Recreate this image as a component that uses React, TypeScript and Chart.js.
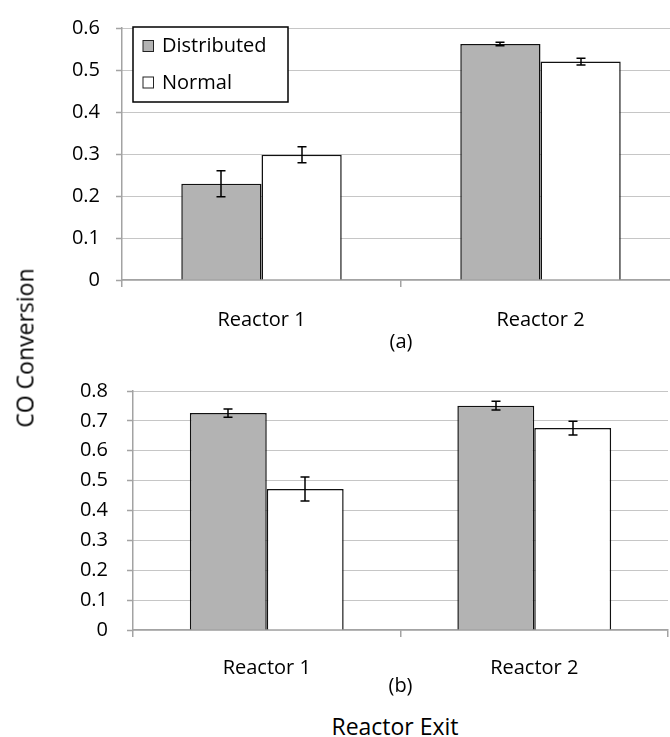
import React, { useEffect, useRef } from 'react';
import { Chart, registerables } from 'chart.js';

Chart.register(...registerables);

// Categories and series
const reactors = ['Reactor 1', 'Reactor 2'];
const seriesNames = ['Distributed', 'Normal'];
const seriesFill = ['#b3b3b3', '#ffffff'];

// Panel (a): CO conversion at each reactor exit, with error half-widths
const distributedA = [0.229, 0.562];
const distributedErrA = [0.031, 0.004];
const normalA = [0.298, 0.52];
const normalErrA = [0.019, 0.008];

// Panel (b)
const distributedB = [0.726, 0.751];
const distributedErrB = [0.014, 0.015];
const normalB = [0.472, 0.676];
const normalErrB = [0.04, 0.023];

// Value axis ranges
const yMaxA = 0.6;
const yMaxB = 0.8;
const yStep = 0.1;

const FONT = "'Open Sans', 'DejaVu Sans', sans-serif";
const GRID_GREY = '#a3a3a3';
const DOT_GREY = '#8c8c8c';
const TEXT = '#000';

// Draws symmetric error bars on top of each bar
const errorBars = {
  id: 'errorBars',
  afterDatasetsDraw(chart: any) {
    const { ctx } = chart;
    const yScale = chart.scales.y;
    ctx.save();
    ctx.strokeStyle = '#000';
    ctx.lineWidth = 1.5;
    chart.data.datasets.forEach((ds: any, i: number) => {
      const meta = chart.getDatasetMeta(i);
      meta.data.forEach((bar: any, j: number) => {
        const v = ds.data[j];
        const e = ds.errors[j];
        const x = Math.round(bar.x);
        const hi = yScale.getPixelForValue(v + e);
        const lo = yScale.getPixelForValue(v - e);
        const cap = 4.5;
        ctx.beginPath();
        ctx.moveTo(x, hi);
        ctx.lineTo(x, lo);
        ctx.moveTo(x - cap, hi);
        ctx.lineTo(x + cap, hi);
        ctx.moveTo(x - cap, lo);
        ctx.lineTo(x + cap, lo);
        ctx.stroke();
      });
    });
    ctx.restore();
  },
};

// Boxed legend drawn inside the plot area
const boxLegend = {
  id: 'boxLegend',
  afterDraw(chart: any, _args: any, opts: any) {
    if (!opts || !opts.show) return;
    const { ctx } = chart;
    const { left, top, width, height } = opts;
    ctx.save();
    ctx.fillStyle = '#ffffff';
    ctx.fillRect(left, top, width, height);
    ctx.strokeStyle = '#000';
    ctx.lineWidth = 1.5;
    ctx.strokeRect(left, top, width, height);
    ctx.font = `20px ${FONT}`;
    ctx.textBaseline = 'alphabetic';
    ctx.textAlign = 'left';
    chart.data.datasets.forEach((ds: any, i: number) => {
      const baseY = top + 25 + i * 36.5;
      ctx.fillStyle = ds.backgroundColor;
      ctx.fillRect(left + 10, baseY - 11.5, 10.5, 11);
      ctx.strokeStyle = '#222';
      ctx.lineWidth = 1;
      ctx.strokeRect(left + 10, baseY - 11.5, 10.5, 11);
      ctx.fillStyle = TEXT;
      ctx.fillText(ds.label, left + 29, baseY);
    });
    ctx.restore();
  },
};

function makeConfig(
  distributed: number[],
  distributedErr: number[],
  normal: number[],
  normalErr: number[],
  yMax: number,
  title: string,
  layout: { top: number; right: number },
  yWidth: number,
  xHeight: number,
  yLabelPad: number,
  xLabelPad: number,
  legend: any
): any {
  return {
    type: 'bar',
    data: {
      labels: reactors,
      datasets: [
        {
          label: seriesNames[0],
          data: distributed,
          errors: distributedErr,
          backgroundColor: seriesFill[0],
          borderColor: '#111',
          borderWidth: 1.5,
          borderSkipped: 'bottom',
        },
        {
          label: seriesNames[1],
          data: normal,
          errors: normalErr,
          backgroundColor: seriesFill[1],
          borderColor: '#111',
          borderWidth: 1.5,
          borderSkipped: 'bottom',
        },
      ],
    },
    options: {
      responsive: false,
      animation: false,
      layout: { padding: { top: layout.top, right: layout.right, left: 0, bottom: 0 } },
      datasets: {
        bar: { categoryPercentage: 0.575, barPercentage: 1 },
      },
      scales: {
        x: {
          offset: true,
          grid: {
            offset: true,
            drawOnChartArea: false,
            drawTicks: true,
            tickLength: 7,
            color: GRID_GREY,
            lineWidth: 1.5,
          },
          border: { color: GRID_GREY, width: 1.5 },
          ticks: {
            color: TEXT,
            padding: xLabelPad,
            font: { family: FONT, size: 20 },
          },
          title: {
            display: true,
            text: title,
            color: TEXT,
            font: { family: FONT, size: 20 },
            padding: { top: 4, bottom: 4 },
          },
          afterFit: (s: any) => {
            s.height = xHeight;
          },
        },
        y: {
          min: 0,
          max: yMax,
          ticks: {
            stepSize: yStep,
            color: TEXT,
            padding: yLabelPad,
            font: { family: FONT, size: 20 },
            callback: (v: any) => (Number(v) === 0 ? '0' : Number(v).toFixed(1)),
          },
          grid: {
            color: DOT_GREY,
            lineWidth: 1,
            tickLength: 6,
            tickColor: GRID_GREY,
            tickWidth: 1.5,
          },
          border: { color: GRID_GREY, width: 1.5, dash: [1, 1] },
          afterFit: (s: any) => {
            s.width = yWidth;
          },
        },
      },
      plugins: {
        legend: { display: false },
        tooltip: { enabled: false },
        boxLegend: legend,
      },
    },
    plugins: [errorBars, boxLegend],
  };
}

export default function App() {
  const topRef = useRef<HTMLCanvasElement | null>(null);
  const bottomRef = useRef<HTMLCanvasElement | null>(null);

  useEffect(() => {
    const top = new Chart(
      topRef.current as HTMLCanvasElement,
      makeConfig(
        distributedA,
        distributedErrA,
        normalA,
        normalErrA,
        yMaxA,
        '(a)',
        { top: 18, right: 10 },
        122,
        78,
        16,
        21,
        { show: true, left: 133, top: 27, width: 155, height: 75 }
      )
    );
    const bottom = new Chart(
      bottomRef.current as HTMLCanvasElement,
      makeConfig(
        distributedB,
        distributedErrB,
        normalB,
        normalErrB,
        yMaxB,
        '(b)',
        { top: 26, right: 2 },
        133,
        72,
        19,
        19,
        { show: false }
      )
    );
    return () => {
      top.destroy();
      bottom.destroy();
    };
  }, []);

  return (
    <div
      style={{
        position: 'absolute',
        left: 0,
        top: 0,
        width: 670,
        height: 737,
        overflow: 'hidden',
        background: '#fff',
        fontFamily: FONT,
      }}
    >
      <canvas
        ref={topRef}
        width={690}
        height={358}
        style={{ position: 'absolute', left: 0, top: 0, width: 690, height: 358 }}
      />
      <canvas
        ref={bottomRef}
        width={670}
        height={342}
        style={{ position: 'absolute', left: 0, top: 360, width: 670, height: 342 }}
      />
      <div
        style={{
          position: 'absolute',
          left: 25,
          top: 348,
          transform: 'translate(-50%, -50%) rotate(-90deg)',
          whiteSpace: 'nowrap',
          fontSize: 23,
          color: TEXT,
          lineHeight: 1,
        }}
      >
        CO Conversion
      </div>
      <div
        style={{
          position: 'absolute',
          left: 395,
          top: 726,
          transform: 'translate(-50%, -50%)',
          whiteSpace: 'nowrap',
          fontSize: 23,
          color: TEXT,
          lineHeight: 1,
        }}
      >
        Reactor Exit
      </div>
    </div>
  );
}
